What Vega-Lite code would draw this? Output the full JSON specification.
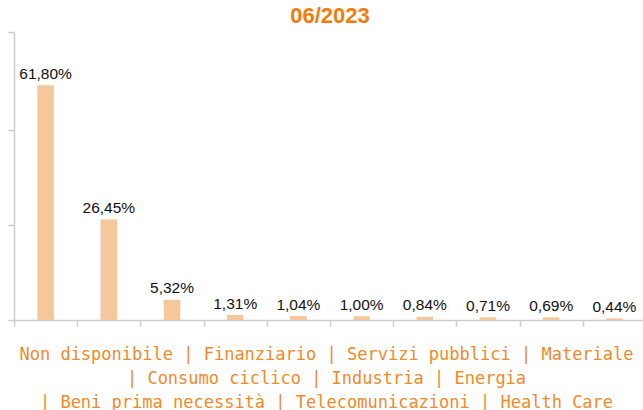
{
  "$schema": "https://vega.github.io/schema/vega-lite/v6.json",
  "autosize": "none",
  "padding": {"left": 14, "top": 32, "right": 0, "bottom": 90},
  "width": 632,
  "height": 288,
  "background": "white",
  "title": {
    "text": "06/2023",
    "color": "#F07D0A",
    "font": "Liberation Sans",
    "fontSize": 22,
    "fontWeight": "bold",
    "anchor": "middle",
    "offset": 3
  },
  "data": {
    "values": [
      {"settore": "Non disponibile", "valore": 61.80, "etichetta": "61,80%"},
      {"settore": "Finanziario", "valore": 26.45, "etichetta": "26,45%"},
      {"settore": "Servizi pubblici", "valore": 5.32, "etichetta": "5,32%"},
      {"settore": "Materiale", "valore": 1.31, "etichetta": "1,31%"},
      {"settore": "Consumo ciclico", "valore": 1.04, "etichetta": "1,04%"},
      {"settore": "Industria", "valore": 1.00, "etichetta": "1,00%"},
      {"settore": "Energia", "valore": 0.84, "etichetta": "0,84%"},
      {"settore": "Beni prima necessità", "valore": 0.71, "etichetta": "0,71%"},
      {"settore": "Telecomunicazioni", "valore": 0.69, "etichetta": "0,69%"},
      {"settore": "Health Care", "valore": 0.44, "etichetta": "0,44%"}
    ]
  },
  "encoding": {
    "x": {
      "field": "settore",
      "type": "nominal",
      "sort": null,
      "scale": {"paddingInner": 0, "paddingOuter": 0},
      "axis": {
        "labels": false,
        "tickBand": "extent",
        "tickSize": 6,
        "tickColor": "#cccccc",
        "tickWidth": 1.5,
        "domainColor": "#cccccc",
        "domainWidth": 1.5,
        "title": [
          "Non disponibile | Finanziario | Servizi pubblici | Materiale",
          "| Consumo ciclico | Industria | Energia",
          "| Beni prima necessità | Telecomunicazioni | Health Care"
        ],
        "titleFont": "DejaVu Sans Mono",
        "titleFontSize": 17,
        "titleFontWeight": "normal",
        "titleColor": "#F08A2A",
        "titleLineHeight": 24,
        "titleBaseline": "alphabetic",
        "titleY": 39,
        "titleX": 312,
        "titleAnchor": "middle"
      }
    },
    "y": {
      "field": "valore",
      "type": "quantitative",
      "scale": {"domain": [0, 75.8], "nice": false},
      "axis": {
        "values": [0, 25, 50, 75.8],
        "labels": false,
        "title": null,
        "grid": false,
        "tickSize": 6,
        "tickColor": "#cccccc",
        "tickWidth": 1.5,
        "domainColor": "#cccccc",
        "domainWidth": 1.5
      }
    }
  },
  "layer": [
    {"mark": {"type": "bar", "size": 16.5, "color": "#F6C79B"}},
    {
      "mark": {
        "type": "text",
        "baseline": "alphabetic",
        "dy": -6.5,
        "font": "Liberation Sans",
        "fontSize": 15.5,
        "color": "#111111"
      },
      "encoding": {"text": {"field": "etichetta"}}
    }
  ],
  "config": {"view": {"stroke": null}}
}
